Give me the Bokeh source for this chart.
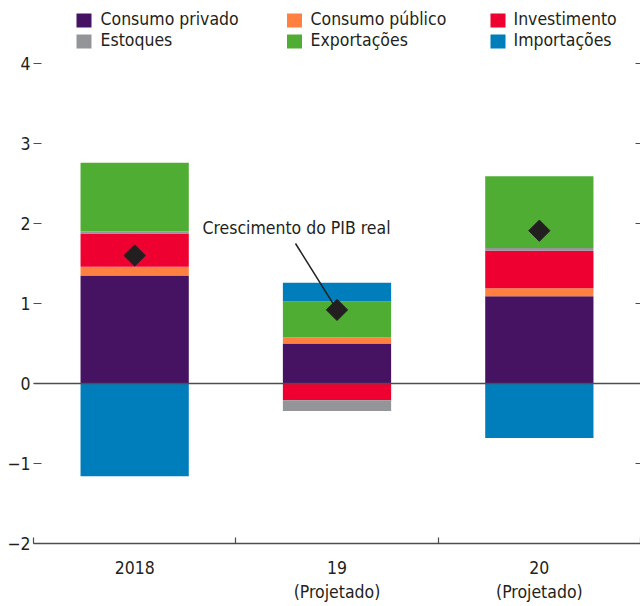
import math
from bokeh.plotting import figure
from bokeh.models import Range1d, LinearAxis, FixedTicker, Span
from bokeh.core.properties import value
from bokeh.embed import file_html
from bokeh.resources import INLINE

# ---------------- data ----------------
categories = ["2018", "19\n(Projetado)", "20\n(Projetado)"]
series_names = ["Consumo privado", "Consumo público", "Investimento",
                "Estoques", "Exportações", "Importações"]
consumo_privado = [1.35, 0.50, 1.09]
consumo_publico = [0.11, 0.075, 0.10]
investimento = [0.415, -0.21, 0.47]
estoques = [0.025, -0.135, 0.035]
exportacoes = [0.86, 0.45, 0.895]
importacoes = [-1.16, 0.235, -0.68]
pib_real = [1.60, 0.92, 1.91]
y_ticks = [-2, -1, 0, 1, 2, 3, 4]
y_tick_labels = ["\u22122", "\u22121", "0", "1", "2", "3", "4"]
annotation_text = "Crescimento do PIB real"

# ---------------- style ----------------
colors = ["#451362", "#FF8040", "#EE0030", "#939598", "#4FAD33", "#007DBB"]
FONT = "DejaVu Sans Condensed"
FS = "17.5px"
TEXT = "#231F20"
W, H = 640, 606
FL, FR, FT, FB = 33, 640, 0, 543          # frame edges in px
PX_PER_UNIT = 80
X0, X1 = -0.5, 2.5
Y0 = -2
Y1 = 4 + 63 / PX_PER_UNIT


def px_x(px):
    return X0 + (px - FL) / (FR - FL) * (X1 - X0)


def px_y(py):
    return Y0 + (FB - py) / PX_PER_UNIT


p = figure(width=W, height=H, x_range=Range1d(X0, X1), y_range=Range1d(Y0, Y1),
           output_backend="svg", toolbar_location=None,
           min_border_left=FL, min_border_right=0, min_border_top=FT,
           min_border_bottom=H - FB)
p.outline_line_color = None
p.grid.visible = False
p.background_fill_color = "white"
p.border_fill_color = "white"

# ---------------- stacked bars ----------------
series = [consumo_privado, consumo_publico, investimento, estoques, exportacoes, importacoes]
xs = list(range(len(categories)))
pos = [0.0] * len(xs)
neg = [0.0] * len(xs)
BAR_W = 0.535
for vals, col in zip(series, colors):
    bottoms, tops = [], []
    for i, v in enumerate(vals):
        if v >= 0:
            bottoms.append(pos[i]); tops.append(pos[i] + v); pos[i] += v
        else:
            tops.append(neg[i]); bottoms.append(neg[i] + v); neg[i] += v
    p.vbar(x=xs, bottom=bottoms, top=tops, width=BAR_W, fill_color=col,
           line_color=None)

# zero line
p.add_layout(Span(location=0, dimension="width", line_color="#4D4D4F", line_width=1.5))

# annotation line + text
tx, ty = px_x(296), px_y(227)
p.segment(x0=[px_x(295)], y0=[px_y(243)], x1=[xs[1]], y1=[pib_real[1]],
          line_color=TEXT, line_width=1.5)
p.text(x=[tx], y=[ty], text=[annotation_text], text_font=value(FONT),
       text_font_size=FS, text_align="center", text_baseline="middle",
       text_color=TEXT)

# GDP diamonds
p.scatter(x=xs, y=pib_real, marker="square", angle=math.pi / 4, size=15,
          fill_color=TEXT, line_color=TEXT)

# ---------------- legend ----------------
sw_x = [83.5, 294, 497.5]
tx_x = [100, 310, 513]
row_y = [20, 41]
lx, ly, lt, sx, sy = [], [], [], [], []
for k, name in enumerate(series_names):
    r, c = divmod(k, 3)
    sx.append(px_x(sw_x[c])); sy.append(px_y(row_y[r]))
    lx.append(px_x(tx_x[c])); ly.append(px_y(row_y[r] - 1.5)); lt.append(name)
p.rect(x=sx, y=sy, width=15, height=14, width_units="screen", height_units="screen",
       fill_color=colors, line_color=None)
p.text(x=lx, y=ly, text=lt, text_font=value(FONT), text_font_size=FS,
       text_align="left", text_baseline="middle", text_color=TEXT)

# ---------------- axes ----------------
yax = p.yaxis[0]
yax.ticker = FixedTicker(ticks=y_ticks)
yax.major_label_overrides = {t: l for t, l in zip(y_ticks, y_tick_labels)}
yax.axis_line_color = None
yax.major_tick_in = 8
yax.major_tick_out = 0
yax.major_tick_line_color = "#4D4D4F"
yax.major_tick_line_width = 1.2
yax.minor_tick_line_color = None
yax.major_label_standoff = 3
yax.major_label_text_font = FONT
yax.major_label_text_font_size = FS
yax.major_label_text_color = TEXT

rax = LinearAxis(ticker=FixedTicker(ticks=y_ticks),
                 major_label_overrides={t: "" for t in y_ticks},
                 axis_line_color=None, major_tick_in=5, major_tick_out=0,
                 major_tick_line_color="#4D4D4F", major_tick_line_width=1.2,
                 minor_tick_line_color=None, major_label_standoff=0,
                 major_label_text_font_size="0px")
p.add_layout(rax, "right")

xax = p.xaxis[0]
xax.ticker = FixedTicker(ticks=xs, minor_ticks=[-0.5, 0.5, 1.5, 2.5])
xax.major_label_overrides = {x: c for x, c in zip(xs, categories)}
xax.major_tick_line_color = None
xax.major_tick_in = 0
xax.major_tick_out = 0
xax.minor_tick_in = 6
xax.minor_tick_out = 0
xax.minor_tick_line_color = "#4D4D4F"
xax.minor_tick_line_width = 1.2
xax.axis_line_color = "#4D4D4F"
xax.axis_line_width = 1.5
xax.major_label_standoff = 14
xax.major_label_text_font = FONT
xax.major_label_text_font_size = FS
xax.major_label_text_color = TEXT

open("out.html", "w").write(file_html(p, INLINE))
